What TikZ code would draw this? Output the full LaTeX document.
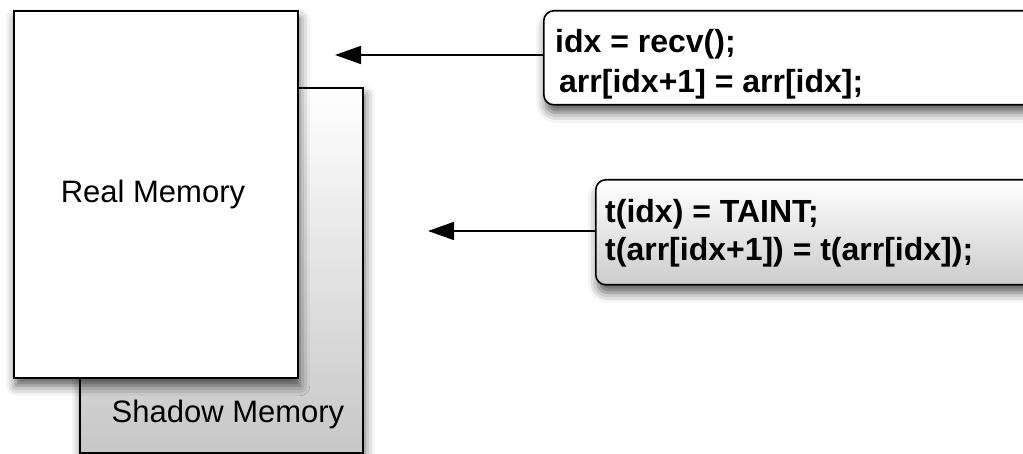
\documentclass[tikz,border=0pt]{standalone}
\usepackage{fontspec}
\setmainfont{Liberation Sans}
\usetikzlibrary{arrows.meta,shadows.blur}
\tikzset{
  memshadow/.style={blur shadow={shadow xshift=2pt, shadow yshift=-8pt, shadow blur radius=10pt, shadow opacity=65}},
  membox/.style={draw=black, line width=1.6pt, anchor=north west, inner sep=0pt, memshadow},
  codebox/.style={draw=black, line width=1.6pt, rounded corners=10pt, anchor=north west, inner sep=0pt, memshadow},
  codetext/.style={anchor=base west, inner sep=0pt, font=\fontsize{32}{40}\selectfont\bfseries},
  memtext/.style={anchor=center, inner sep=0pt, font=\fontsize{31}{37}\selectfont},
  flow/.style={line width=1.8pt, -{Triangle[length=26pt,width=18pt]}}
}
\begin{document}
\begin{tikzpicture}[x=1pt,y=-1pt]
\useasboundingbox (0,0) rectangle (1023,454);
% shadow memory
\node[membox, minimum width=283pt, minimum height=365pt,
      top color=white, bottom color=black!22] (shadow) at (79,87) {};
\node[memtext] (shadowlbl) at (228,414) {Shadow Memory};
% real memory
\node[membox, minimum width=284pt, minimum height=367pt, fill=white] (real) at (13,10) {};
\node[memtext] (reallbl) at (153,194) {Real Memory};
% code boxes
\node[codebox, minimum width=500pt, minimum height=94pt, fill=white] (box1) at (543,10) {};
\node[codetext] (l1) at (555,53) {idx = recv();};
\node[codetext] (l2) at (559,93) {arr[idx+1] = arr[idx];};
\node[codebox, minimum width=450pt, minimum height=105pt,
      top color=white, bottom color=black!20] (box2) at (595,179) {};
\node[codetext] (l3) at (605,223) {t(idx) = TAINT;};
\node[codetext] (l4) at (605,261) {t(arr[idx+1]) = t(arr[idx]);};
% arrows
\coordinate (tip1) at (335,55);
\coordinate (tip2) at (428,231);
\draw[flow] (box1.west |- tip1) -- (tip1);
\draw[flow] (box2.west |- tip2) -- (tip2);
\end{tikzpicture}
\end{document}
